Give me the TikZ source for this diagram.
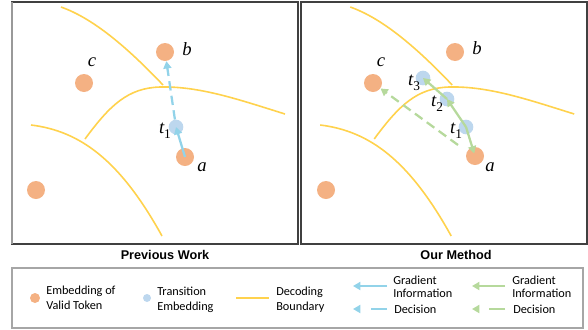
\documentclass[tikz,border=0pt]{standalone}
\usepackage{fontspec}
\setmainfont{Liberation Serif}
\newfontfamily\legfont{Carlito}
\newfontfamily\titlefont{Liberation Sans}
\usetikzlibrary{arrows.meta}
\definecolor{tokfill}{HTML}{F4B183}
\definecolor{transfill}{HTML}{BDD7EE}
\definecolor{boundcol}{HTML}{FFD24D}
\definecolor{arrblue}{HTML}{92D3E9}
\definecolor{arrgreen}{HTML}{B6D99C}
\definecolor{panelcol}{HTML}{404040}
\definecolor{legcol}{HTML}{A6A6A6}
\newcommand\tlab[1]{\textit{t}\kern-0.3pt\raisebox{-0.55ex}{\fontsize{10}{10}\selectfont #1}}
\begin{document}
\begin{tikzpicture}[x=0.75pt,y=-0.75pt,
  tok/.style={circle, fill=tokfill, draw=none, minimum size=13.5pt, inner sep=0pt},
  trans/.style={circle, fill=transfill, draw=none, minimum size=11pt, inner sep=0pt},
  bound/.style={draw=boundcol, line width=1.2pt},
  panel/.style={draw=panelcol, line width=0.9pt},
  lab/.style={font=\fontsize{14}{14}\selectfont\itshape, inner sep=0pt},
  tl/.style={font=\fontsize{14}{14}\selectfont, inner sep=0pt},
  tip/.style={-{Triangle[length=5.5pt,width=6pt]}},
  bluea/.style={draw=arrblue, line width=1.7pt, tip},
  bluedash/.style={bluea, dash pattern=on 7pt off 4pt},
  greena/.style={draw=arrgreen, line width=1.7pt, tip},
  greendash/.style={greena, dash pattern=on 7pt off 4pt},
  legdash/.style={dash pattern=on 12pt off 30pt},
  ttl/.style={font=\titlefont\bfseries\fontsize{9.5}{11}\selectfont, inner sep=0pt},
  legt/.style={font=\legfont\fontsize{9.2}{11.25}\selectfont, align=left, anchor=west, inner sep=0pt},
  legt2/.style={font=\legfont\fontsize{9.2}{9.4}\selectfont, align=left, anchor=west, inner sep=0pt},
  ltok/.style={circle, fill=tokfill, minimum size=7.5pt, inner sep=0pt},
  ltrans/.style={circle, fill=transfill, minimum size=6pt, inner sep=0pt}
]
\useasboundingbox (0,0) rectangle (588,329);

% ---------- left panel ----------
\draw[panel] (12,2) rectangle (298,244);
\draw[draw=gray!80, line width=1.4pt] (12,2) -- (12,244);
\draw[bound] (61,7) .. controls (92,18) and (125,45) .. (163,85);
\draw[bound] (85,139) .. controls (110,105) and (128,88) .. (160,87) .. controls (200,86) and (240,100) .. (285,114);
\draw[bound] (31,125) .. controls (80,131) and (120,160) .. (162,236);
\node[tok] (Lb) at (165,52) {};
\node[tok] (Lc) at (84,83) {};
\node[tok] (Ld) at (36,190) {};
\node[tok] (La) at (185,157) {};
\node[trans] (Lt1) at (176,127) {};
\node[lab] (Lbl) at (187,49) {b};
\node[lab] (Lcl) at (92,62) {c};
\node[lab] (Lal) at (202,167) {a};
\node[tl] (Ltl) at (165,131) {\tlab{1}};
\draw[bluea] (La.center) -- (Lt1.center);
\draw[bluedash] (Lt1) -- (Lb);

% ---------- right panel ----------
\draw[panel] (301,2) rectangle (587,244);
\begin{scope}[xshift=216.9pt]
\draw[bound] (61,7) .. controls (92,18) and (125,45) .. (163,85);
\draw[bound] (85,139) .. controls (110,105) and (128,88) .. (160,87) .. controls (200,86) and (240,100) .. (285,114);
\draw[bound] (31,125) .. controls (80,131) and (120,160) .. (162,236);
\end{scope}
\node[tok] (Rb) at (455,52) {};
\node[tok] (Rc) at (373,83) {};
\node[tok] (Rd) at (326,190) {};
\node[tok] (Ra) at (475,156) {};
\node[trans] (Rt1) at (466,127) {};
\node[trans] (Rt2) at (447,99) {};
\node[trans] (Rt3) at (423,78) {};
\node[lab] (Rbl) at (477,48) {b};
\node[lab] (Rcl) at (381,62) {c};
\node[lab] (Ral) at (490,167) {a};
\node[tl] (Rt1l) at (456,131) {\tlab{1}};
\node[tl] (Rt2l) at (437,104) {\tlab{2}};
\node[tl] (Rt3l) at (414,83) {\tlab{3}};
\coordinate (Rds) at (458,145);
\draw[greena, shorten >=2pt] (Rt1.center) -- (Ra.center);
\draw[greena] (Rt1.center) -- (Rt2.center);
\draw[greena] (Rt2.center) -- (Rt3.center);
\draw[greendash] (Rds) -- (Rc);

% ---------- titles ----------
\node[ttl] (T1) at (165,255) {Previous Work};
\node[ttl] (T2) at (456,255) {Our Method};

% ---------- legend ----------
\draw[draw=legcol, line width=0.9pt] (12,268) rectangle (583,328);
\node[ltok] (Gtok) at (35,298) {};
\node[legt] (Gtokt) at (46,297.5) {Embedding of\\Valid Token};
\node[ltrans] (Gtr) at (147,298) {};
\node[legt] (Gtrt) at (157,299.5) {Transition\\Embedding};
\coordinate (Gb1) at (236,298);
\coordinate (Gb2) at (269,298);
\draw[bound] (Gb1) -- (Gb2);
\node[legt] (Gbt) at (276,299.5) {Decoding\\Boundary};
\coordinate (Gba1) at (387,286);
\coordinate (Gba2) at (353,286);
\draw[bluea] (Gba1) -- (Gba2);
\node[legt2] (Gbat) at (393,287) {Gradient\\Information};
\coordinate (Gbd1) at (387,309);
\coordinate (Gbd2) at (353,309);
\draw[bluea, legdash] (Gbd1) -- (Gbd2);
\node[legt] (Gbdt) at (394,309.5) {Decision};
\coordinate (Gga1) at (505,286);
\coordinate (Gga2) at (472,286);
\draw[greena] (Gga1) -- (Gga2);
\node[legt2] (Ggat) at (512,287) {Gradient\\Information};
\coordinate (Ggd1) at (505,309);
\coordinate (Ggd2) at (472,309);
\draw[greena, legdash] (Ggd1) -- (Ggd2);
\node[legt] (Ggdt) at (513,309.5) {Decision};
\end{tikzpicture}
\end{document}
